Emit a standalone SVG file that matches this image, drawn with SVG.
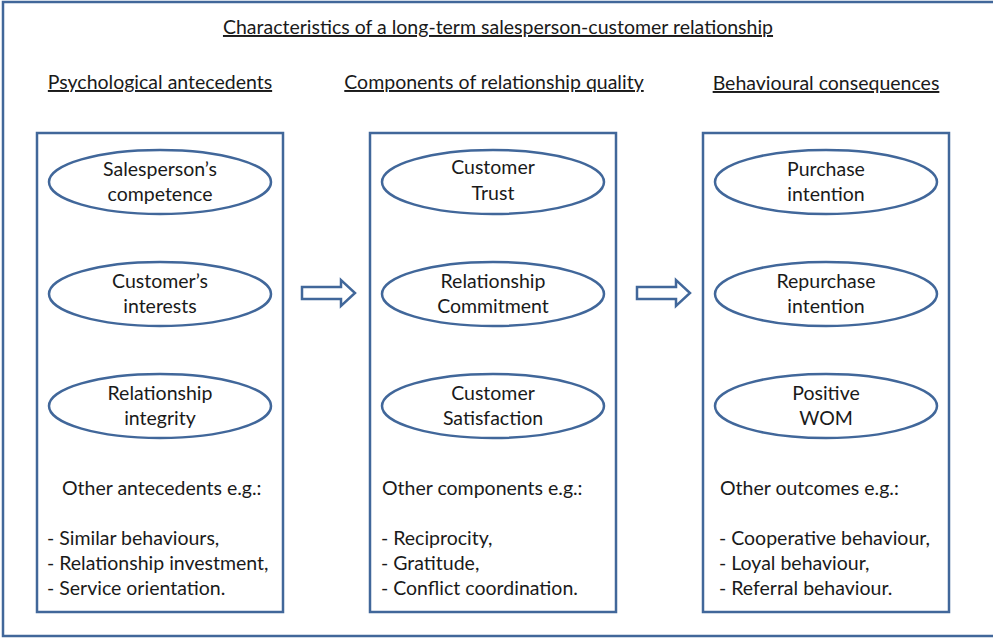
<svg xmlns="http://www.w3.org/2000/svg" width="993" height="639" viewBox="0 0 993 639">
<style>
text{font-family:Lato,"Liberation Sans",sans-serif;font-size:19.5px;fill:#1a1a1a}
.c{text-anchor:middle}
.u{text-decoration:underline}
.box{fill:#fff;stroke:#41679a;stroke-width:2.5}
.ell{fill:#fff;stroke:#41679a;stroke-width:2.5}
.arr{fill:#fff;stroke:#41679a;stroke-width:2.5;stroke-linejoin:miter}
</style>
<rect x="0" y="0" width="993" height="639" fill="#fff"/>
<rect x="3" y="2" width="1000" height="634" fill="none" stroke="#41679a" stroke-width="2.5"/>
<g id="title">
<text class="c u" x="498" y="34">Characteristics of a long-term salesperson-customer relationship </text>
</g>
<g id="headings">
<text class="c u" x="160" y="89">Psychological antecedents</text>
<text class="c u" x="494" y="89">Components of relationship quality</text>
<text class="c u" x="826" y="90">Behavioural consequences</text>
</g>
<g id="col1">
<rect class="box" x="37" y="133" width="246" height="479"/>
</g>
<g id="col2">
<rect class="box" x="370" y="133" width="246" height="479"/>
</g>
<g id="col3">
<rect class="box" x="703" y="133" width="246" height="479"/>
</g>
<g id="n1"><ellipse class="ell" cx="160" cy="182" rx="111" ry="32"/><text class="c" x="160" y="176">Salesperson’s</text><text class="c" x="160" y="201">competence</text></g>
<g id="n2"><ellipse class="ell" cx="160" cy="294" rx="111" ry="32"/><text class="c" x="160" y="288">Customer’s</text><text class="c" x="160" y="313">interests</text></g>
<g id="n3"><ellipse class="ell" cx="160" cy="406" rx="111" ry="32"/><text class="c" x="160" y="400">Relationship</text><text class="c" x="160" y="425">integrity</text></g>
<g id="n4"><ellipse class="ell" cx="493" cy="182" rx="111" ry="32"/><text class="c" x="493" y="174">Customer</text><text class="c" x="493" y="200">Trust</text></g>
<g id="n5"><ellipse class="ell" cx="493" cy="294" rx="111" ry="32"/><text class="c" x="493" y="288">Relationship</text><text class="c" x="493" y="313">Commitment</text></g>
<g id="n6"><ellipse class="ell" cx="493" cy="406" rx="111" ry="32"/><text class="c" x="493" y="400">Customer</text><text class="c" x="493" y="425">Satisfaction</text></g>
<g id="n7"><ellipse class="ell" cx="826" cy="182" rx="111" ry="32"/><text class="c" x="826" y="176">Purchase</text><text class="c" x="826" y="201">intention</text></g>
<g id="n8"><ellipse class="ell" cx="826" cy="294" rx="111" ry="32"/><text class="c" x="826" y="288">Repurchase</text><text class="c" x="826" y="313">intention</text></g>
<g id="n9"><ellipse class="ell" cx="826" cy="406" rx="111" ry="32"/><text class="c" x="826" y="400">Positive</text><text class="c" x="826" y="425">WOM</text></g>
<g id="other1">
<text x="62" y="495">Other antecedents e.g.:</text>
<text x="47" y="545">- Similar behaviours,</text>
<text x="47" y="570">- Relationship investment,</text>
<text x="47" y="595">- Service orientation.</text>
</g>
<g id="other2">
<text x="382" y="495">Other components e.g.:</text>
<text x="381" y="545">- Reciprocity,</text>
<text x="381" y="570">- Gratitude,</text>
<text x="381" y="595">- Conflict coordination.</text>
</g>
<g id="other3">
<text x="720" y="495">Other outcomes e.g.:</text>
<text x="719" y="545">- Cooperative behaviour,</text>
<text x="719" y="570">- Loyal behaviour,</text>
<text x="719" y="595">- Referral behaviour.</text>
</g>
<g id="connectors">
<polygon class="arr" points="302,287 341,287 341,280 355,293 341,306 341,299 302,299"/>
<polygon class="arr" points="637,287 676,287 676,280 690,293 676,306 676,299 637,299"/>
</g>
</svg>
